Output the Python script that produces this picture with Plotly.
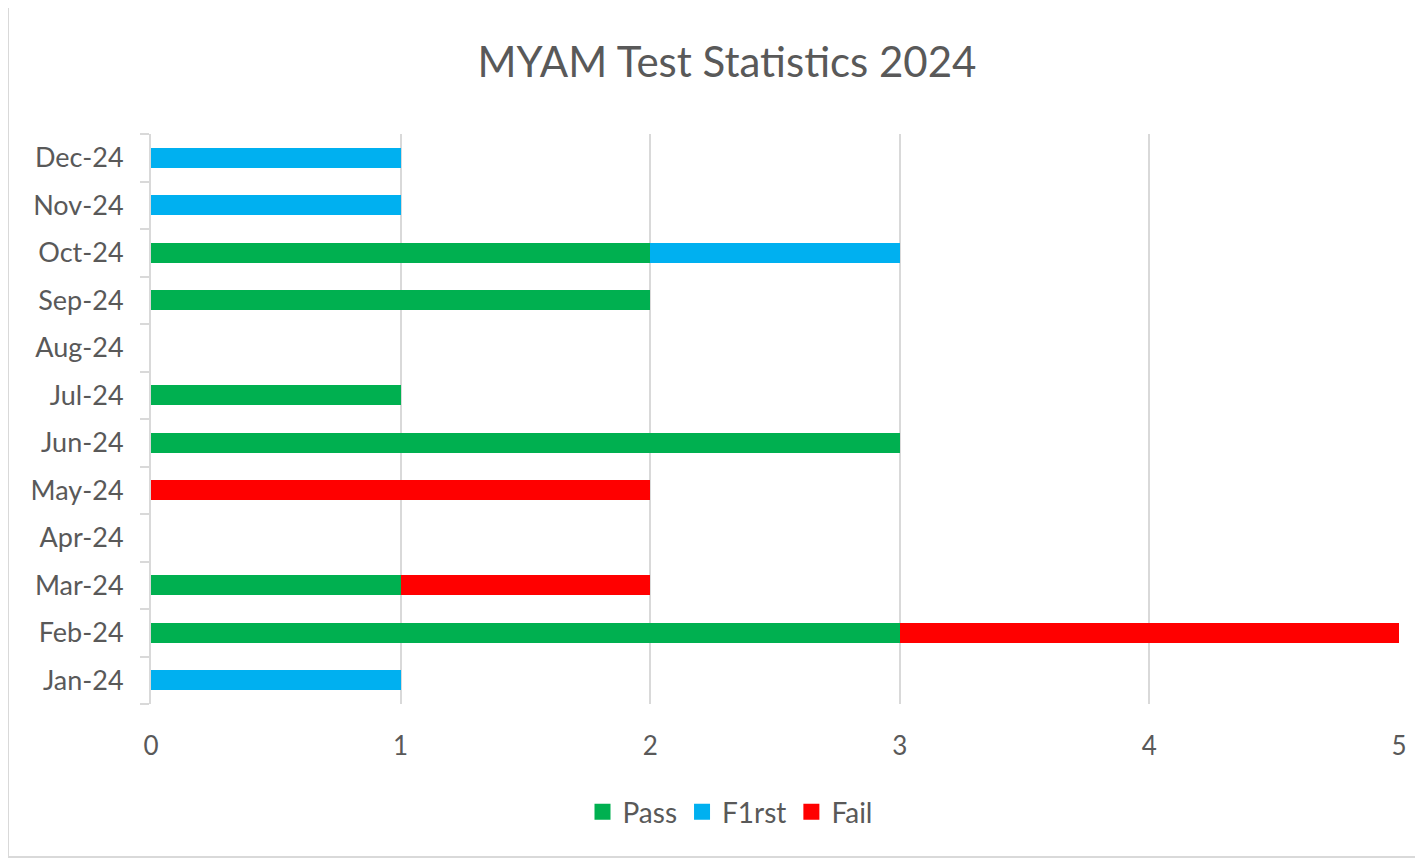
import plotly.graph_objects as go

months = ["Jan-24", "Feb-24", "Mar-24", "Apr-24", "May-24", "Jun-24",
          "Jul-24", "Aug-24", "Sep-24", "Oct-24", "Nov-24", "Dec-24"]
pass_vals = [0, 3, 1, 0, 0, 3, 1, 0, 2, 2, 0, 0]
first_vals = [1, 0, 0, 0, 0, 0, 0, 0, 0, 1, 1, 1]
fail_vals = [0, 2, 1, 0, 2, 0, 0, 0, 0, 0, 0, 0]

series = [("Pass", pass_vals, "#00B050"),
          ("F1rst", first_vals, "#00B0F0"),
          ("Fail", fail_vals, "#FF0000")]

FONT = "Lato, 'Open Sans', sans-serif"
TXT = "#595959"

fig = go.Figure()
for name, vals, col in series:
    fig.add_trace(go.Bar(y=months, x=vals, name=name, orientation="h",
                         legendgroup=name, showlegend=False,
                         marker=dict(color=col, line=dict(width=0))))
# legend entries with larger square swatches (no data drawn)
for name, vals, col in series:
    fig.add_trace(go.Scatter(x=[None], y=[None], mode="markers", name=name,
                             legendgroup=name,
                             marker=dict(symbol="square", size=17, color=col)))

# page body has an 8px default margin; compensate
OFF = 8
W, H = 1423, 859
L, T = 151 - OFF, 134 - OFF
pw, ph = 1248, 570
R, B = W - L - pw, H - T - ph

def px_to_paper_x(px):
    return (px - OFF - L) / pw

def px_to_paper_y(py):
    return (T + ph - (py - OFF)) / ph

fig.update_layout(
    width=W, height=H,
    margin=dict(l=L, r=R, t=T, b=B),
    barmode="stack", bargap=0.58,
    plot_bgcolor="white", paper_bgcolor="white",
    font=dict(family=FONT, color=TXT, size=26),
    title=dict(text="MYAM Test Statistics 2024",
               x=(727 - OFF) / W, y=1 - (62 - OFF) / H,
               xref="container", yref="container",
               xanchor="center", yanchor="middle",
               font=dict(size=42, color=TXT, family=FONT)),
    xaxis=dict(range=[0, 5], dtick=1, showgrid=True, gridcolor="#D9D9D9",
               gridwidth=2, zeroline=False, showline=False, ticks="",
               tickfont=dict(size=26, color=TXT), ticklabelstandoff=24),
    yaxis=dict(categoryorder="array", categoryarray=months,
               showline=True, linecolor="#D9D9D9", linewidth=2,
               ticks="outside", tickson="boundaries", ticklen=9,
               tickcolor="#D9D9D9", tickwidth=2, showgrid=False,
               zeroline=False, tickfont=dict(size=27, color=TXT),
               ticklabelstandoff=20),
    legend=dict(orientation="h", x=px_to_paper_x(730), y=px_to_paper_y(812),
                xanchor="center", yanchor="middle", traceorder="normal",
                font=dict(size=28, color=TXT), itemwidth=30),
    showlegend=True,
)

fig.add_shape(type="rect", xref="paper", yref="paper",
              x0=px_to_paper_x(8), x1=px_to_paper_x(1440),
              y0=px_to_paper_y(857), y1=px_to_paper_y(6),
              line=dict(color="#D9D9D9", width=2), fillcolor="rgba(0,0,0,0)",
              layer="below")

fig.write_html("out.html")
